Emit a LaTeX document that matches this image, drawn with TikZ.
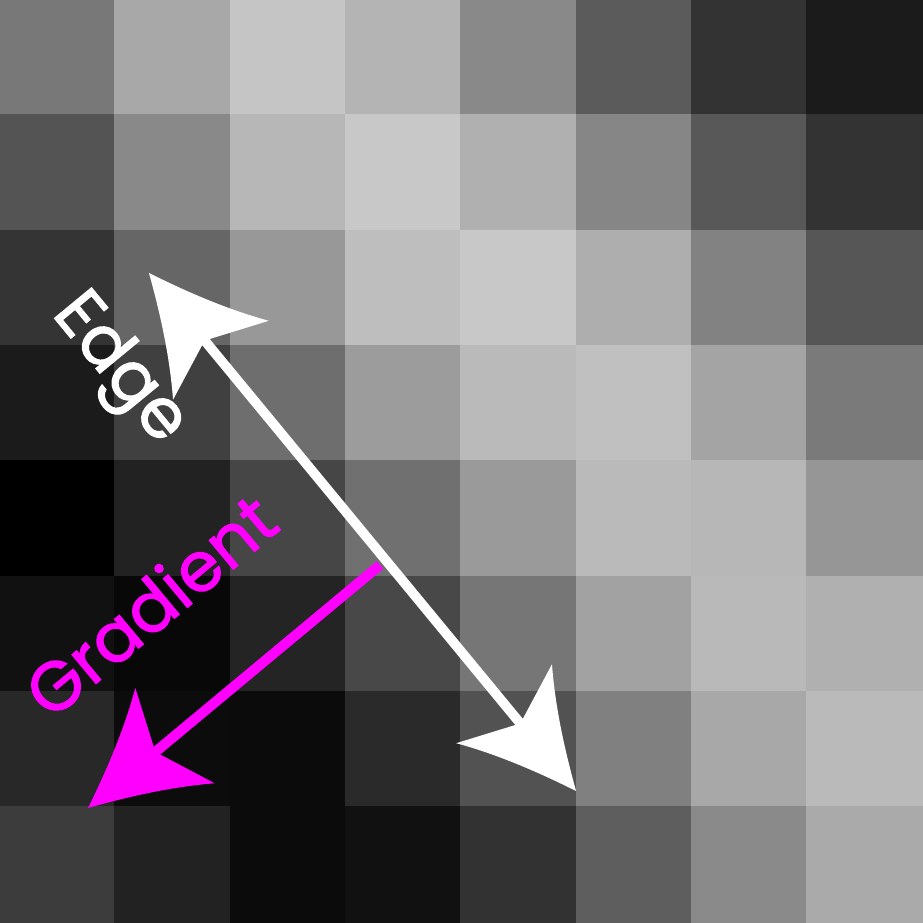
\documentclass[tikz,border=0pt]{standalone}
\usepackage{fontspec}
\newfontfamily\labelfont{Poppins}[FakeBold=1.5]
\usetikzlibrary{arrows.meta}
\definecolor{gradpink}{RGB}{255,0,255}

% concave arrow head, sizes fixed in pt
\pgfdeclarearrow{
  name = Swoop,
  setup code = {
    \pgfarrowssettipend{0pt}
    \pgfarrowssetlineend{-20.5pt}
    \pgfarrowssetvisualbackend{-21.6pt}
    \pgfarrowssetbackend{-27.9pt}
    \pgfarrowshullpoint{0pt}{0pt}
    \pgfarrowsupperhullpoint{-27.9pt}{15.3pt}
  },
  drawing code = {
    \pgfpathmoveto{\pgfqpoint{0pt}{0pt}}
    \pgfpathcurveto{\pgfqpoint{-9pt}{4pt}}{\pgfqpoint{-19pt}{9pt}}{\pgfqpoint{-27.9pt}{15.3pt}}
    \pgfpathlineto{\pgfqpoint{-21.6pt}{0pt}}
    \pgfpathlineto{\pgfqpoint{-27.9pt}{-15.3pt}}
    \pgfpathcurveto{\pgfqpoint{-19pt}{-9pt}}{\pgfqpoint{-9pt}{-4pt}}{\pgfqpoint{0pt}{0pt}}
    \pgfpathclose
    \pgfusepathqfill
  },
}

\begin{document}
\begin{tikzpicture}[x=1cm,y=-1cm,>=Swoop,
  edgearrow/.style={draw=white,fill=white,line width=2.4pt,<->},
  gradarrow/.style={draw=gradpink,fill=gradpink,line width=2.5pt,->},
  tag/.style={font=\labelfont\fontsize{17}{20}\selectfont,inner sep=0pt}]
  \useasboundingbox (0,0) rectangle (8,8);
  % pixel grid, one row of grey levels per entry
  \foreach \vals [count=\r] in {{120,168,197,180,137,91,51,27},
      {84,137,183,200,176,134,88,51},
      {52,102,152,190,200,174,130,86},
      {27,64,110,156,186,192,164,122},
      {0,34,70,112,154,186,183,150},
      {17,8,36,72,118,162,185,176},
      {40,12,11,42,82,128,168,186},
      {60,34,11,17,50,94,138,170}}
    \foreach \v [count=\c] in \vals {
      \definecolor{cellgray}{RGB}{\v,\v,\v}
      \fill[cellgray] (\c-1.01,\r-1.01) rectangle (\c,\r);
    }
  \coordinate (edgeA) at (1.291,2.366);
  \coordinate (edgeB) at (4.993,6.856);
  \coordinate (gradFrom) at (3.294,4.897);
  \coordinate (gradTo) at (0.763,7.003);
  \draw[edgearrow] (edgeA) -- (edgeB);
  \draw[gradarrow] (gradFrom) -- (gradTo);
  \node[tag,text=white,rotate=-50.5] (edgelabel) at (1.023,3.207) {Edge};
  \node[tag,text=gradpink,rotate=39.8] (gradlabel) at (1.30,5.244) {Gradient};
\end{tikzpicture}
\end{document}
